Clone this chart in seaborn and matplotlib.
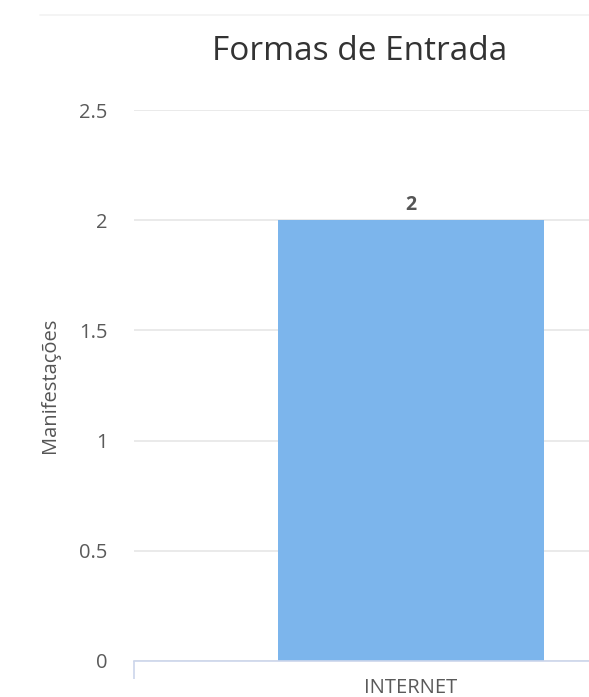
import matplotlib
matplotlib.use("Agg")
import matplotlib.pyplot as plt
import seaborn as sns
import pandas as pd
from matplotlib.lines import Line2D

categories = ["INTERNET"]
values = [2]
title = "Formas de Entrada"
y_label = "Manifestações"
y_ticks = [0, 0.5, 1, 1.5, 2, 2.5]
y_tick_labels = ["0", "0.5", "1", "1.5", "2", "2.5"]

sns.set_theme(style="white")
plt.rcParams["font.family"] = ["Open Sans", "DejaVu Sans"]

W, H = 589, 697
fig = plt.figure(figsize=(W / 100, H / 100), dpi=100)
ax = fig.add_axes([134 / W, 36 / H, 1 - 134 / W, (661 - 110) / H])

df = pd.DataFrame({"cat": categories, "val": values})
sns.barplot(data=df, x="cat", y="val", color="#7cb5ec", saturation=1, width=0.48,
            linewidth=0, ax=ax, zorder=3)

ax.set_xlim(-0.5, 0.321)
ax.set_ylim(0, 2.5)
ax.set_yticks(y_ticks)
ax.set_yticklabels(y_tick_labels)
ax.grid(axis="y", color="#e6e6e6", linewidth=1.2, zorder=0)
for s in ["top", "right", "left"]:
    ax.spines[s].set_visible(False)
ax.spines["bottom"].set_color("#ccd6eb")
ax.spines["bottom"].set_linewidth(1.2)
ax.spines["bottom"].set_zorder(4)

ax.tick_params(axis="y", length=0, pad=19, labelsize=14.5, labelcolor="#5a5a5a")
ax.tick_params(axis="x", which="major", bottom=True, length=0, pad=12, labelsize=14.5,
               labelcolor="#5a5a5a")
ax.set_xticks([-0.5], minor=True)
ax.tick_params(axis="x", which="minor", bottom=True, length=13, width=1.2,
               color="#ccd6eb", direction="out")
ax.set_xlabel("")
ax.set_ylabel(y_label, fontsize=14.5, color="#555555", labelpad=13.5)

for i, v in enumerate(values):
    ax.text(i, v + 0.025, f"{v:g}", ha="center", va="bottom", fontsize=14,
            fontweight="bold", color="#555555", zorder=5)

fig.text(360 / W, 1 - 51 / H, title, ha="center", va="center", fontsize=24, color="#333333")
fig.add_artist(Line2D([40 / W, 1], [1 - 15 / H, 1 - 15 / H], color="#f2f2f2", linewidth=1.2,
                      transform=fig.transFigure))

fig.savefig("out.png", dpi=100)
